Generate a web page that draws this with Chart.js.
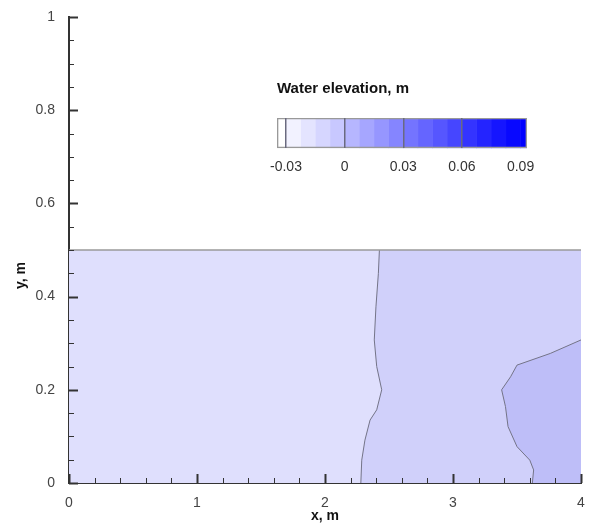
<!DOCTYPE html>
<html>
<head>
<meta charset="utf-8">
<script src="https://cdn.jsdelivr.net/npm/chart.js@4.4.1/dist/chart.umd.min.js"></script>
<style>
body { margin: 0; background: #fff; }
#wrap { position: relative; width: 592px; height: 530px; }
#cb { position: absolute; left: 250px; top: 70px; }
</style>
</head>
<body>
<div id="wrap">
  <canvas id="myChart" width="592" height="530"></canvas>
  <canvas id="cb" width="300" height="117"></canvas>
</div>
<script>
/* datos */
// contorno 1 (entre la zona clara y la media), de abajo hacia arriba
const linea1X = [2.28, 2.287, 2.312, 2.352, 2.404, 2.443, 2.404, 2.385, 2.398, 2.417, 2.425];
const linea1Y = [0.0, 0.049, 0.092, 0.135, 0.157, 0.2, 0.25, 0.307, 0.378, 0.45, 0.5];
// contorno 2 (zona mas oscura a la derecha), del borde derecho hacia abajo
const linea2X = [4.0, 3.76, 3.5, 3.45, 3.38, 3.41, 3.43, 3.5, 3.6, 3.63, 3.62];
const linea2Y = [0.307, 0.278, 0.253, 0.228, 0.2, 0.164, 0.121, 0.078, 0.049, 0.028, 0.0];
// dominio
const dominioX = [0, 4];
const dominioY = [0, 0.5];
// ejes
const ticksX = [0, 1, 2, 3, 4];
const ticksY = [0, 0.2, 0.4, 0.6, 0.8, 1];
// barra de colores
const barraBordes = [-0.0346, -0.03, -0.0225, -0.015, -0.0075, 0, 0.0075, 0.015, 0.0225, 0.03,
  0.0375, 0.045, 0.0525, 0.06, 0.0675, 0.075, 0.0825, 0.09, 0.0933];
const barraColores = ['#ffffff', '#f2f2ff', '#e4e4ff', '#d6d6ff', '#c8c8ff', '#b6b6ff', '#a6a6ff',
  '#9696ff', '#8585ff', '#7474ff', '#6565ff', '#5656ff', '#4646ff', '#3434ff', '#2424ff', '#1515ff',
  '#0808ff', '#0000ff'];
const barraTicks = [-0.03, 0, 0.03, 0.06, 0.09];

Chart.defaults.font.family = "'Liberation Sans', Arial, sans-serif";

const zip = (xs, ys) => xs.map((v, i) => ({x: v, y: ys[i]}));

/* poligonos */
const zonaClara = [
  {x: dominioX[0], y: dominioY[0]}, {x: dominioX[0], y: dominioY[1]},
  {x: dominioX[1], y: dominioY[1]}, {x: dominioX[1], y: dominioY[0]}
];
const zonaMedia = zip(linea1X, linea1Y).concat([{x: dominioX[1], y: dominioY[1]}, {x: dominioX[1], y: dominioY[0]}]);
const zonaOscura = zip(linea2X, linea2Y).concat([{x: dominioX[1], y: dominioY[0]}]);
const bordeSup = [{x: dominioX[0], y: dominioY[1]}, {x: dominioX[1], y: dominioY[1]}];

/* marcas hacia dentro */
const marcasDentro = {
  id: 'marcasDentro',
  afterDatasetsDraw(chart) {
    const {ctx, scales: {x, y}} = chart;
    const x0 = x.getPixelForValue(0);
    const y0 = y.getPixelForValue(0);
    ctx.save();
    ctx.strokeStyle = '#333';
    for (let i = 0; i <= 20; i++) {
      const major = i % 4 === 0;
      const py = Math.round(y.getPixelForValue(i * 0.05)) + 0.5;
      ctx.lineWidth = major ? 2 : 1;
      ctx.beginPath();
      ctx.moveTo(x0, py);
      ctx.lineTo(x0 + (major ? 9 : 5), py);
      ctx.stroke();
    }
    for (let i = 0; i <= 20; i++) {
      const major = i % 5 === 0;
      const px = Math.round(x.getPixelForValue(i * 0.2)) + 0.5;
      ctx.lineWidth = major ? 2 : 1;
      ctx.beginPath();
      ctx.moveTo(px, y0);
      ctx.lineTo(px, y0 - (major ? 9 : 5));
      ctx.stroke();
    }
    // titulo del eje y
    ctx.fillStyle = '#111';
    ctx.font = "bold 14px 'Liberation Sans', Arial, sans-serif";
    ctx.textAlign = 'center';
    ctx.textBaseline = 'middle';
    ctx.translate(21, y.getPixelForValue(0.445));
    ctx.rotate(-Math.PI / 2);
    ctx.fillText('y, m', 0, 0);
    ctx.restore();
  }
};

const ctx = document.getElementById('myChart');
new Chart(ctx, {
  type: 'scatter',
  data: {
    datasets: [
      {data: bordeSup, showLine: true, borderColor: '#9a9a9a', borderWidth: 1.5, pointRadius: 0, fill: false},
      {data: zip(linea1X, linea1Y), showLine: true, borderColor: '#747488', borderWidth: 1, pointRadius: 0, fill: false},
      {data: zip(linea2X, linea2Y), showLine: true, borderColor: '#747488', borderWidth: 1, pointRadius: 0, fill: false},
      {data: zonaOscura, showLine: true, borderWidth: 0, pointRadius: 0, fill: 'shape', backgroundColor: '#bebef8'},
      {data: zonaMedia, showLine: true, borderWidth: 0, pointRadius: 0, fill: 'shape', backgroundColor: '#d0d0fa'},
      {data: zonaClara, showLine: true, borderWidth: 0, pointRadius: 0, fill: 'shape', backgroundColor: '#dfdffd'}
    ]
  },
  options: {
    responsive: false,
    animation: false,
    layout: {padding: {left: 0, right: 11, top: 17, bottom: 0}},
    plugins: {legend: {display: false}, tooltip: {enabled: false}},
    scales: {
      x: {
        type: 'linear', min: 0, max: 4,
        afterBuildTicks: s => { s.ticks = ticksX.map(v => ({value: v})); },
        afterFit: s => { s.height = 47; },
        grid: {display: false},
        border: {display: true, color: '#333', width: 2},
        ticks: {color: '#444', font: {size: 14}, padding: 4, callback: v => String(v)},
        title: {display: true, text: 'x, m', color: '#111', font: {size: 14, weight: 'bold'}, padding: {top: 0, bottom: 5}}
      },
      y: {
        type: 'linear', min: 0, max: 1,
        afterBuildTicks: s => { s.ticks = ticksY.map(v => ({value: v})); },
        afterFit: s => { s.width = 69; },
        grid: {display: false},
        border: {display: true, color: '#333', width: 2},
        ticks: {color: '#444', font: {size: 14}, padding: 6, callback: v => String(v)}
      }
    }
  },
  plugins: [marcasDentro]
});

/* barra de colores */
const celdas = barraColores.map((c, i) => ({
  data: [[barraBordes[i], barraBordes[i + 1]]],
  backgroundColor: c,
  borderWidth: 0,
  grouped: false
}));
const contorno = {
  data: [[barraBordes[0], barraBordes[barraBordes.length - 1]]],
  backgroundColor: 'transparent',
  borderColor: '#999',
  borderWidth: 1,
  borderSkipped: false,
  grouped: false
};

new Chart(document.getElementById('cb'), {
  type: 'bar',
  data: {labels: [''], datasets: [contorno].concat(celdas)},
  options: {
    responsive: false,
    animation: false,
    indexAxis: 'y',
    barPercentage: 1,
    categoryPercentage: 1,
    layout: {padding: {left: 27, right: 23, top: 0, bottom: 0}},
    plugins: {
      legend: {display: false},
      tooltip: {enabled: false},
      title: {
        display: true, text: 'Water elevation, m', align: 'start', fullSize: false,
        color: '#111', font: {size: 15, weight: 'bold'}, padding: {top: 10, bottom: 20}
      }
    },
    scales: {
      x: {
        min: barraBordes[0], max: barraBordes[barraBordes.length - 1],
        afterBuildTicks: s => { s.ticks = barraTicks.map(v => ({value: v})); },
        grid: {
          drawTicks: false, z: 1, lineWidth: 1.5,
          color: c => (c.tick && c.tick.value === 0.09) ? 'transparent' : '#6a6a80'
        },
        border: {display: false},
        ticks: {color: '#333', font: {size: 14}, padding: 11}
      },
      y: {display: false}
    }
  }
});
</script>
</body>
</html>
